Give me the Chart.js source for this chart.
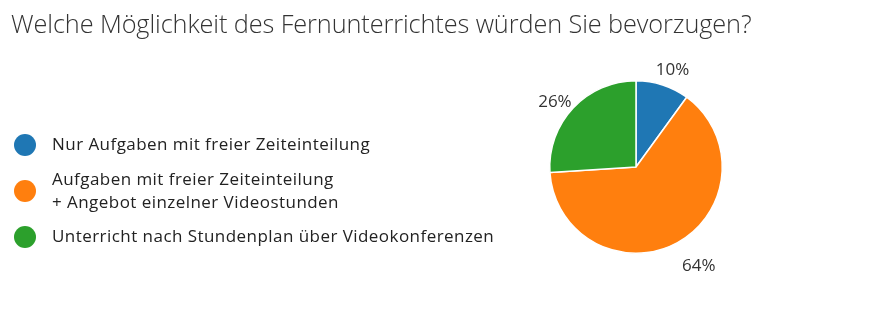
<!DOCTYPE html>
<html><head><meta charset="utf-8">
<script src="https://cdn.jsdelivr.net/npm/chart.js@4"></script>
<style>
html,body{margin:0;padding:0;background:#fff;width:893px;height:316px;overflow:hidden;font-family:"Open Sans","Noto Sans",sans-serif;}
#wrap{position:relative;width:893px;height:316px;}
#title{position:absolute;left:11px;top:6px;font-size:25.3px;font-weight:300;color:#333;white-space:nowrap;letter-spacing:-0.1px;}
#legend{position:absolute;left:14px;top:0;}
.item{position:absolute;left:0;display:flex;align-items:center;white-space:nowrap;}
.dot{width:22px;height:22px;border-radius:50%;margin-right:16px;flex:none;}
.txt{font-size:17px;color:#222;line-height:23px;letter-spacing:0.45px;margin-top:-3px;}
canvas{position:absolute;left:0;top:0;}
</style></head>
<body><div id="wrap">
<canvas id="c" width="893" height="316"></canvas>
<div id="title">Welche Möglichkeit des Fernunterrichtes würden Sie bevorzugen?</div>
<div id="legend"></div>
</div>
<script>
const categories = ["Nur Aufgaben mit freier Zeiteinteilung", "Aufgaben mit freier Zeiteinteilung\n+ Angebot einzelner Videostunden", "Unterricht nach Stundenplan über Videokonferenzen"];
const values = [10, 64, 26];
const colors = ["#1f77b4", "#ff7f0e", "#2ca02c"];

// HTML legend
const legendTops = [145, 191, 237];
const leg = document.getElementById('legend');
categories.forEach((c, i) => {
  const it = document.createElement('div');
  it.className = 'item';
  const d = document.createElement('div'); d.className = 'dot'; d.style.background = colors[i];
  const t = document.createElement('div'); t.className = 'txt';
  t.innerHTML = c.split('\n').map(s => s.replace(/&/g,'&amp;')).join('<br>');
  it.appendChild(d); it.appendChild(t);
  leg.appendChild(it);
  it.style.top = (legendTops[i] - it.offsetHeight / 2) + 'px';
});

const labelPlugin = {
  id: 'outLabels',
  afterDatasetsDraw(chart, args, opts) {
    const ctx = chart.ctx;
    const meta = chart.getDatasetMeta(0);
    const total = values.reduce((a, b) => a + b, 0);
    ctx.save();
    ctx.font = '17px "Open Sans", "Noto Sans", sans-serif';
    ctx.fillStyle = '#333';
    ctx.textAlign = 'center';
    ctx.textBaseline = 'middle';
    meta.data.forEach((arc, i) => {
      const p = arc.getProps(['x', 'y', 'startAngle', 'endAngle', 'outerRadius'], true);
      const mid = (p.startAngle + p.endAngle) / 2;
      const ux = Math.cos(mid), uy = Math.sin(mid);
      const txt = Math.round(values[i] / total * 100) + '%';
      const w = ctx.measureText(txt).width;
      const r = p.outerRadius * 1.2 + (opts.extra[i] || 0);
      const x = p.x + ux * r + ux * w / 2;
      const y = p.y + uy * r;
      ctx.fillText(txt, x, y);
    });
    ctx.restore();
  }
};

new Chart(document.getElementById('c'), {
  type: 'pie',
  data: {
    labels: categories,
    datasets: [{ data: values, backgroundColor: colors, borderColor: '#fff', borderWidth: 1.5 }]
  },
  options: {
    responsive: false,
    animation: false,
    events: [],
    layout: { padding: { left: 549, right: 170, top: 80, bottom: 62 } },
    plugins: { legend: { display: false }, tooltip: { enabled: false }, title: { display: false },
      outLabels: { extra: [-2, 10, -9] } }
  },
  plugins: [labelPlugin]
});
</script>
</body></html>
